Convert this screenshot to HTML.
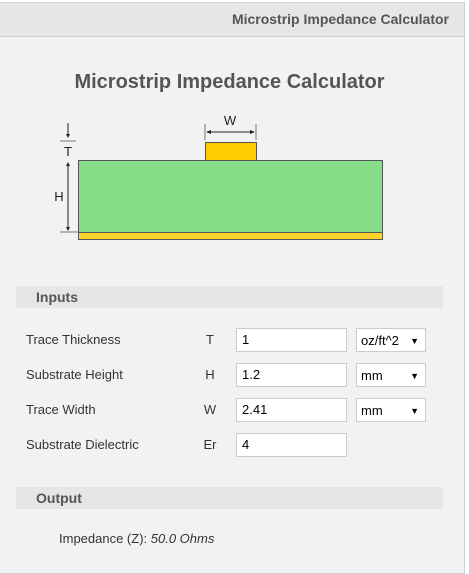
<!DOCTYPE html>
<html><head><meta charset="utf-8"><style>
body{margin:0;width:469px;height:565px;background:#fff;font-family:"Liberation Sans",Arial,sans-serif;position:relative;overflow:hidden}
.panel{position:absolute;left:0;top:2px;width:464px;height:570px;background:#f2f2f2;border:1px solid #d0d0d0;border-left:none}
.hdr{position:absolute;left:0;top:0;width:464px;height:33px;background:#e6e6e6;border-bottom:1px solid #d0d0d0}
.hdr span{position:absolute;right:15px;top:8px;font-weight:bold;font-size:14px;color:#555}
.abs{position:absolute}
.bar{position:absolute;left:16px;width:427px;height:22px;background:#e6e6e6;font-weight:bold;font-size:14px;color:#555}
.bar span{position:absolute;left:20px;top:3px}
.lbl{position:absolute;left:26px;font-size:13px;color:#333}
.sym{position:absolute;left:200px;width:20px;text-align:center;font-size:13px;color:#333}
.inp{position:absolute;left:236px;width:104px;height:22px;background:#fff;border:1px solid #ccc;font-size:13px;line-height:22px;padding-left:5px;color:#000}
.sel{position:absolute;left:356px;width:64px;height:22px;background:#fff;border:1px solid #ccc;font-size:13px;line-height:24px;padding-left:4px;color:#000}
.sel i{position:absolute;right:6px;top:0;font-style:normal;font-size:9px}
</style></head><body>
<div class="panel">
<div class="hdr"><span>Microstrip Impedance Calculator</span></div>
</div>
<div class="abs" style="left:0;width:459px;top:71px;text-align:center;font-weight:bold;font-size:20px;color:#555">Microstrip Impedance Calculator</div>
<svg class="abs" style="left:0;top:0" width="469" height="260">
<rect x="78.5" y="160.5" width="304" height="72" fill="#88dd88" stroke="#555"/>
<rect x="78.5" y="232.5" width="304" height="7" fill="#ffd42a" stroke="#555"/>
<rect x="205.5" y="142.5" width="51" height="18" fill="#ffcc00" stroke="#555"/>
<g stroke="#777" fill="none">
<line x1="205" y1="124" x2="205" y2="140"/><line x1="256" y1="124" x2="256" y2="140"/>
<line x1="60" y1="141" x2="76" y2="141"/><line x1="60" y1="232" x2="78" y2="232"/>
</g>
<g stroke="#222">
<line x1="207" y1="132" x2="254" y2="132"/><line x1="68" y1="123" x2="68" y2="136"/><line x1="68" y1="163" x2="68" y2="229"/>
</g>
<g fill="#222">
<polygon points="206,132 211,130 211,134"/><polygon points="255,132 250,130 250,134"/>
<polygon points="68,138 66,134 70,134"/><polygon points="68,162 66,166 70,166"/><polygon points="68,231 66,227 70,227"/>
</g>
<g font-family="Liberation Sans,Arial,sans-serif" font-size="13" fill="#222">
<text x="230" y="125" text-anchor="middle">W</text>
<text x="68" y="156" text-anchor="middle">T</text>
<text x="59" y="201" text-anchor="middle">H</text>
</g>
</svg>
<div class="bar" style="top:286px"><span>Inputs</span></div>
<div class="lbl" style="top:332px">Trace Thickness</div>
<div class="sym" style="top:332px">T</div>
<div class="inp" style="top:328px">1</div>
<div class="sel" style="top:328px">oz/ft^2<i>▼</i></div>
<div class="lbl" style="top:367px">Substrate Height</div>
<div class="sym" style="top:367px">H</div>
<div class="inp" style="top:363px">1.2</div>
<div class="sel" style="top:363px">mm<i>▼</i></div>
<div class="lbl" style="top:402px">Trace Width</div>
<div class="sym" style="top:402px">W</div>
<div class="inp" style="top:398px">2.41</div>
<div class="sel" style="top:398px">mm<i>▼</i></div>
<div class="lbl" style="top:437px">Substrate Dielectric</div>
<div class="sym" style="top:437px">Er</div>
<div class="inp" style="top:433px">4</div>
<div class="bar" style="top:487px"><span>Output</span></div>
<div class="abs" style="left:59px;top:531px;font-size:13px;color:#333">Impedance (Z): <i>50.0 Ohms</i></div>
</body></html>
